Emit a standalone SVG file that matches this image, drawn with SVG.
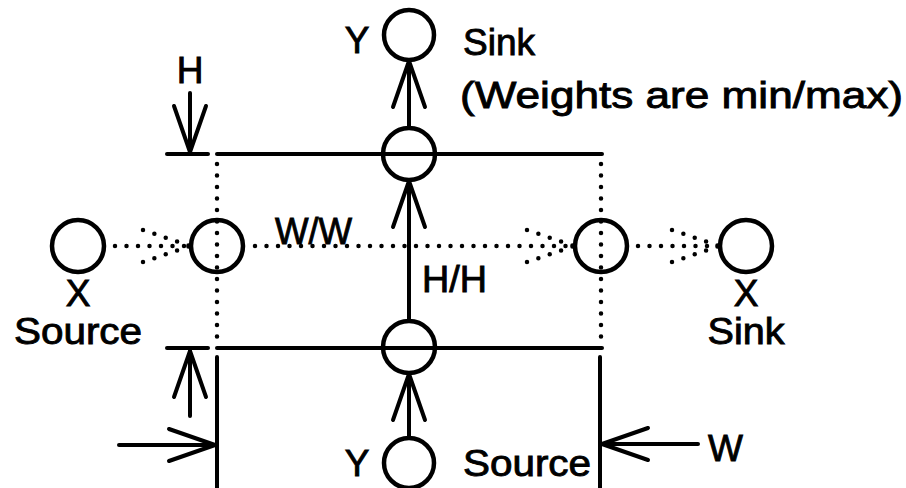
<svg xmlns="http://www.w3.org/2000/svg" width="906" height="488" viewBox="0 0 906 488">
<style>
  .node { fill: none; stroke: #000; stroke-width: 4.5; }
  .solid { fill: none; stroke: #000; stroke-width: 4; stroke-linecap: round; }
  .dot { fill: none; stroke: #000; stroke-width: 4.5; stroke-linecap: round; stroke-dasharray: 0 11.5; }
  .arr { marker-end: url(#arrow); }
  .darr { marker-end: url(#darrow); }
  text { font-family: "Liberation Sans", Arial, sans-serif; font-size: 37px; fill: #000; stroke: #000; stroke-width: 0.9; }
  .mid { text-anchor: middle; }
</style>
<defs>
  <marker id="arrow" viewBox="-50 -20 54 40" refX="0" refY="0" markerWidth="54" markerHeight="40" markerUnits="userSpaceOnUse" orient="auto" overflow="visible">
    <path d="M-46,-16 L0,0 L-46,16" fill="none" stroke="#000" stroke-width="4" stroke-linecap="round" stroke-linejoin="round"/>
  </marker>
  <marker id="darrow" viewBox="-50 -20 54 40" refX="0" refY="0" markerWidth="54" markerHeight="40" markerUnits="userSpaceOnUse" orient="auto" overflow="visible">
    <path d="M-47,-16 L0,0 M-47,16 L0,0" fill="none" stroke="#000" stroke-width="4.5" stroke-linecap="round" stroke-dasharray="0 12"/>
  </marker>
</defs>

<g id="connectors">
  <line class="solid" x1="167" y1="154" x2="208" y2="154"/>
  <line class="solid" x1="217" y1="154" x2="602" y2="154"/>
  <line class="solid" x1="167" y1="348" x2="208" y2="348"/>
  <line class="solid" x1="217" y1="348" x2="602" y2="348"/>
  <line class="dot" x1="217" y1="164" x2="217" y2="340"/>
  <line class="dot" x1="601" y1="164" x2="601" y2="340"/>
  <line class="solid" x1="217" y1="357" x2="217" y2="490"/>
  <line class="solid" x1="600" y1="357" x2="600" y2="490"/>
  <line class="solid arr" x1="190" y1="93" x2="190" y2="152"/>
  <line class="solid arr" x1="190" y1="416" x2="190" y2="351"/>
  <line class="solid arr" x1="119" y1="445" x2="215" y2="445"/>
  <line class="solid arr" x1="698" y1="444" x2="602" y2="444"/>
  <line class="solid arr" x1="409" y1="438" x2="409" y2="374"/>
  <line class="solid arr" x1="409" y1="321" x2="409" y2="181"/>
  <line class="solid arr" x1="409" y1="128" x2="409" y2="61"/>
  <line class="dot darr" x1="115" y1="246" x2="190" y2="246"/>
  <line class="dot darr" x1="255" y1="246" x2="574" y2="246"/>
  <line class="dot darr" x1="638" y1="246" x2="719" y2="246"/>
</g>

<g id="y-sink">
  <circle class="node" cx="409" cy="35" r="25"/>
  <text x="357" y="53" class="mid">Y</text>
  <text x="463" y="55">Sink</text>
  <text x="460" y="108" textLength="443" lengthAdjust="spacingAndGlyphs">(Weights are min/max)</text>
</g>

<g id="top-node">
  <circle class="node" cx="409" cy="154" r="26"/>
</g>

<g id="bottom-node">
  <circle class="node" cx="409" cy="347" r="26"/>
</g>

<g id="y-source">
  <circle class="node" cx="409" cy="463" r="25"/>
  <text x="357" y="476" class="mid">Y</text>
  <text x="463" y="476" textLength="128" lengthAdjust="spacingAndGlyphs">Source</text>
</g>

<g id="x-source">
  <circle class="node" cx="78" cy="246" r="26"/>
  <text x="78" y="306" class="mid" font-size="35">X</text>
  <text x="78" y="344" class="mid" textLength="128" lengthAdjust="spacingAndGlyphs">Source</text>
</g>

<g id="left-node">
  <circle class="node" cx="217" cy="246" r="26"/>
</g>

<g id="right-node">
  <circle class="node" cx="601" cy="246" r="26"/>
</g>

<g id="x-sink">
  <circle class="node" cx="746" cy="246" r="26"/>
  <text x="746" y="306" class="mid" font-size="35">X</text>
  <text x="746" y="344" class="mid" textLength="77" lengthAdjust="spacingAndGlyphs">Sink</text>
</g>

<g id="labels">
  <text x="190" y="83" class="mid">H</text>
  <text x="708" y="461">W</text>
  <text x="275" y="244" textLength="77" lengthAdjust="spacingAndGlyphs">W/W</text>
  <text x="422" y="292" textLength="65" lengthAdjust="spacingAndGlyphs">H/H</text>
</g>
</svg>
